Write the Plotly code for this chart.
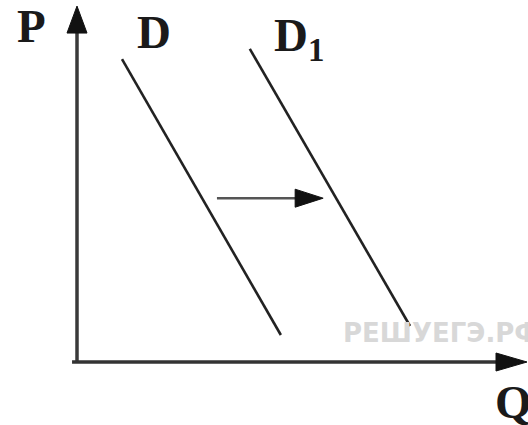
import plotly.graph_objects as go

# demand curves (Q and P in axis units, origin at the corner)
d_q = [1.00, 4.53]
d_p = [6.73, 0.60]
d1_q = [3.84, 7.40]
d1_p = [6.96, 0.80]

# shift arrow between the curves
shift_q = [3.11, 5.47]
shift_p = [3.64, 3.64]

# axis arrows, tail -> tip
p_axis_q = [0.0, 0.0]
p_axis_p = [0.0, 7.91]
q_axis_q = [-0.11, 10.0]
q_axis_p = [0.0, 0.0]

labels = ["P", "D", "D<sub>1</sub>", "Q"]
watermark = "РЕШУЕГЭ.РФ"

W, H = 528, 425
PX = 45            # pixels per axis unit, same for both axes
X0, Y0 = 77, 362   # pixel position of the origin

SERIF = "Liberation Serif, Times New Roman, serif"


def arrow(fig, q, p, color, width, length, half):
    # shaft plus a filled triangular head; head sizes are in pixels
    dq, dp = q[1] - q[0], p[1] - p[0]
    n = (dq ** 2 + dp ** 2) ** 0.5
    uq, up = dq / n, dp / n
    L, h = length / PX, half / PX
    bq, bp = q[1] - uq * L, p[1] - up * L
    fig.add_trace(go.Scatter(x=[q[0], q[1] - uq * L * 0.6], y=[p[0], p[1] - up * L * 0.6],
                             mode="lines", line=dict(color=color, width=width)))
    fig.add_trace(go.Scatter(x=[q[1], bq - up * h, bq + up * h, q[1]],
                             y=[p[1], bp + uq * h, bp - uq * h, p[1]],
                             mode="lines", fill="toself", fillcolor="#111111",
                             line=dict(color="#111111", width=1)))


fig = go.Figure()

arrow(fig, p_axis_q, p_axis_p, "#3a3a3a", 3.5, 27, 10)
arrow(fig, q_axis_q, q_axis_p, "#333333", 3.5, 31, 9)
arrow(fig, shift_q, shift_p, "#555555", 2.5, 28, 9)

fig.add_trace(go.Scatter(x=d_q, y=d_p, mode="lines", line=dict(color="#222222", width=2.6)))
fig.add_trace(go.Scatter(x=d1_q, y=d1_p, mode="lines", line=dict(color="#222222", width=2.6)))

# letters
fig.add_annotation(x=(31 - X0) / PX, y=(Y0 - 26) / PX, text="<b>" + labels[0] + "</b>")
fig.add_annotation(x=(154 - X0) / PX, y=(Y0 - 32) / PX, text="<b>" + labels[1] + "</b>")
fig.add_annotation(x=(272 - X0) / PX, y=(Y0 - 38) / PX, text="<b>" + labels[2] + "</b>", xanchor="left")
fig.add_annotation(x=(513 - X0) / PX, y=(Y0 - 402) / PX, text="<b>" + labels[3] + "</b>")
fig.update_annotations(showarrow=False, font=dict(family=SERIF, size=47, color="#1a1a1a"))

# site watermark
fig.add_annotation(x=(341 - X0) / PX, y=(Y0 - 333) / PX, text="<b>" + watermark + "</b>", xanchor="left",
                   showarrow=False, font=dict(family="DejaVu Sans", size=26, color="#d8d8d8"))

fig.update_layout(width=W, height=H, margin=dict(l=0, r=0, t=0, b=0, pad=0),
                  paper_bgcolor="white", plot_bgcolor="white", showlegend=False,
                  xaxis=dict(range=[-X0 / PX, (W - X0) / PX], visible=False),
                  yaxis=dict(range=[-(H - Y0) / PX, Y0 / PX], visible=False))

# the page body has an 8px default margin; drop it so the figure fills the window
fig.write_html("out.html", config={"displayModeBar": False},
               post_script="document.body.style.margin='0';")
